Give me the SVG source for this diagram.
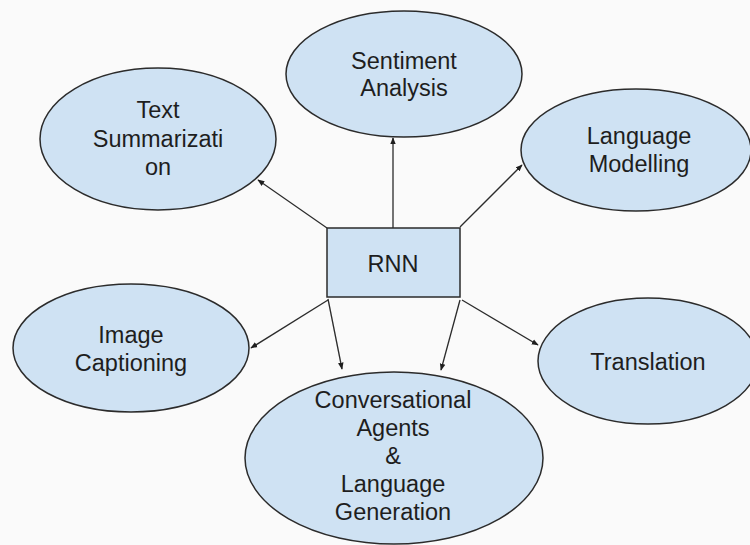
<svg xmlns="http://www.w3.org/2000/svg" width="750" height="545" viewBox="0 0 750 545">
<style>
.n{fill:#cfe2f3;stroke:#2b2b2b;stroke-width:1.5}
.t{font-family:"Liberation Sans",Arial,sans-serif;font-size:23.5px;fill:#1e1e1e;text-anchor:middle}
.c line{stroke:#2b2b2b;stroke-width:1.3;marker-end:url(#ah)}
</style>
<defs>
<marker id="ah" viewBox="0 0 10 10" refX="9" refY="5" markerWidth="7" markerHeight="7" orient="auto" markerUnits="userSpaceOnUse">
<path d="M0,1 L10,5 L0,9 z" fill="#1e1e1e"/>
</marker>
</defs>
<rect width="750" height="545" fill="#fafafa"/>
<g class="c" id="connectors">
<line x1="393" y1="228" x2="393" y2="138"/>
<line x1="327" y1="228" x2="258" y2="180"/>
<line x1="460" y1="227" x2="522" y2="165"/>
<line x1="328" y1="300" x2="251" y2="348"/>
<line x1="328" y1="299" x2="342" y2="369"/>
<line x1="460" y1="300" x2="441" y2="370"/>
<line x1="462" y1="300" x2="538" y2="345"/>
</g>
<g id="sentiment">
<ellipse class="n" cx="404" cy="74" rx="118" ry="63"/>
<text class="t" x="404" y="69">Sentiment</text>
<text class="t" x="404" y="96">Analysis</text>
</g>
<g id="textsum">
<ellipse class="n" cx="158" cy="139" rx="118" ry="71"/>
<text class="t" x="158" y="118">Text</text>
<text class="t" x="158" y="147">Summarizati</text>
<text class="t" x="158" y="175">on</text>
</g>
<g id="langmod">
<ellipse class="n" cx="636" cy="150" rx="115" ry="61"/>
<text class="t" x="639" y="144">Language</text>
<text class="t" x="639" y="172">Modelling</text>
</g>
<g id="rnn">
<rect class="n" x="327" y="228" width="133" height="69"/>
<text class="t" x="393" y="272">RNN</text>
</g>
<g id="imagecap">
<ellipse class="n" cx="131" cy="348" rx="118" ry="64"/>
<text class="t" x="131" y="343">Image</text>
<text class="t" x="131" y="371">Captioning</text>
</g>
<g id="translation">
<ellipse class="n" cx="648" cy="361" rx="110" ry="63"/>
<text class="t" x="648" y="370">Translation</text>
</g>
<g id="conversational">
<ellipse class="n" cx="394" cy="458" rx="149" ry="86"/>
<text class="t" x="393" y="408">Conversational</text>
<text class="t" x="393" y="436">Agents</text>
<text class="t" x="393" y="464">&amp;</text>
<text class="t" x="393" y="492">Language</text>
<text class="t" x="393" y="520">Generation</text>
</g>
</svg>
